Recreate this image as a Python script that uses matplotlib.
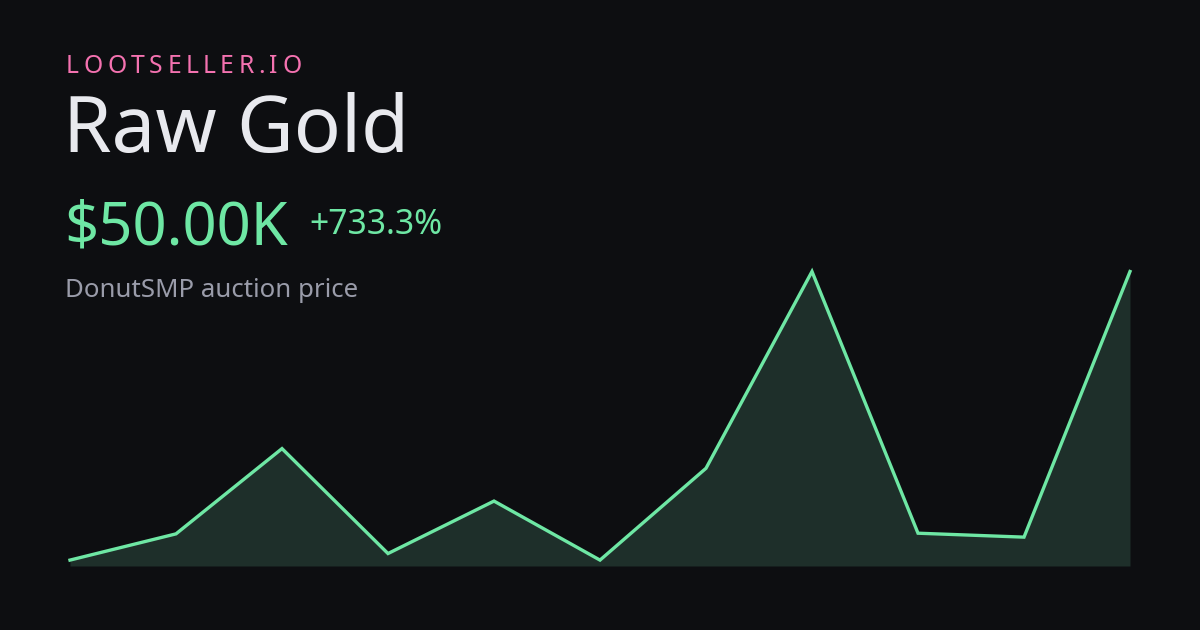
import matplotlib
matplotlib.use("Agg")
import matplotlib.pyplot as plt

# price history (thousands of $)
prices = [6, 10, 23, 7, 15, 6, 20, 50, 10.1, 9.5, 50]
days = list(range(len(prices)))

brand = "LOOTSELLER.IO"
item_name = "Raw Gold"
price_label = "$50.00K"
change_label = "+733.3%"
subtitle = "DonutSMP auction price"

BG = "#0d0e11"
GREEN = "#6ee7a4"
FILL = "#1e2f2a"
PINK = "#f472b0"
WHITE = "#e8e9ee"
GREY = "#9a9caa"

W, H = 1200, 630
plt.rcParams['font.family'] = ['Noto Sans', 'DejaVu Sans']

fig = plt.figure(figsize=(W / 100, H / 100), dpi=100, facecolor=BG)


def px(x, y):
    # pixel coords (from top-left) -> figure fraction
    return x / W, 1 - y / H


# chart area
ax = fig.add_axes([70 / W, (H - 566) / H, 1060 / W, (566 - 271.5) / H])
ax.set_facecolor(BG)
lo = min(prices) * 0.85
ax.fill_between(days, prices, lo, color=FILL, linewidth=0)
ax.plot(days, prices, color=GREEN, lw=2.4, solid_joinstyle='miter', clip_on=False)
ax.set_xlim(days[0], days[-1])
ax.set_ylim(lo, max(prices))
ax.axis('off')

# brand with letter spacing
renderer = fig.canvas.get_renderer()
x = 66
for ch in brand:
    t = fig.text(*px(x, 73), ch, color=PINK, fontsize=17.8, va='baseline', ha='left')
    w = t.get_window_extent(renderer).width
    x += w + 4.5

fig.text(*px(63, 152), item_name, color=WHITE, fontsize=56.2, va='baseline', ha='left')
fig.text(*px(64, 244), price_label, color=GREEN, fontsize=43, va='baseline', ha='left')
fig.text(*px(309, 234), change_label, color=GREEN, fontsize=24.3, va='baseline', ha='left')
fig.text(*px(65, 297), subtitle, color=GREY, fontsize=18.6, va='baseline', ha='left')

fig.savefig("out.png", dpi=100, facecolor=BG)
